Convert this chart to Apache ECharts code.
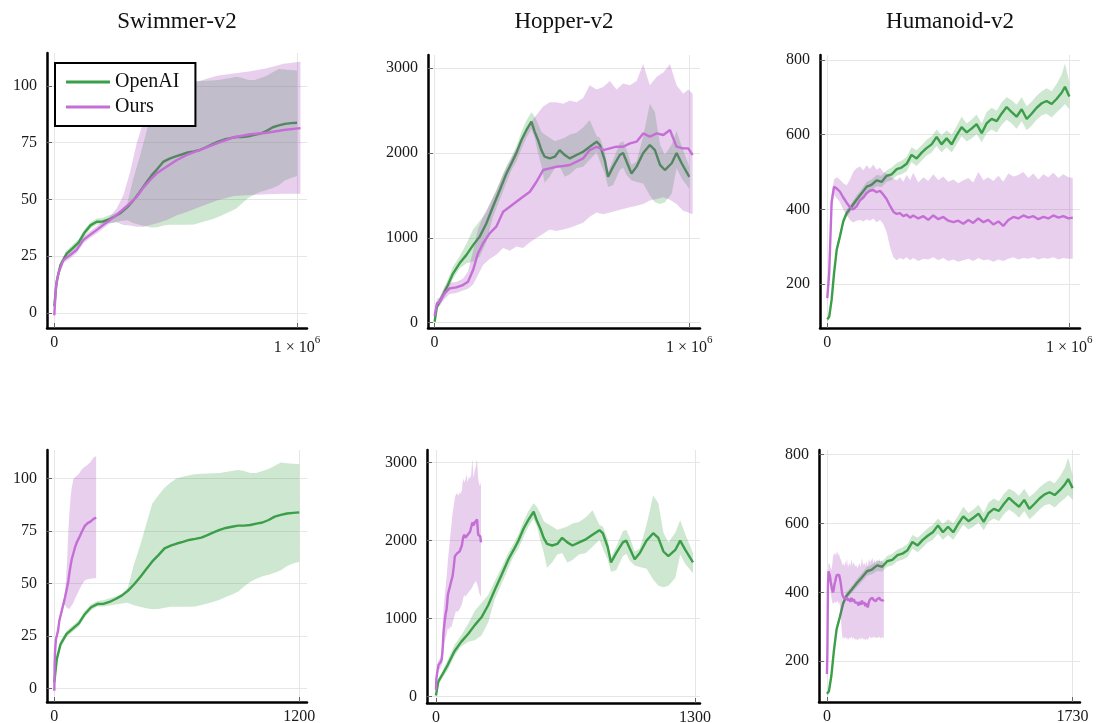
<!DOCTYPE html>
<html>
<head>
<meta charset="utf-8">
<title>Swimmer / Hopper / Humanoid</title>
<script src="https://cdn.jsdelivr.net/npm/echarts@6.0.0/dist/echarts.min.js"></script>
<style>
html, body { margin: 0; padding: 0; background: #fff; }
#main { width: 1099px; height: 723px; }
</style>
</head>
<body>
<div id="main"></div>
<script>
// t = fraction of the 1e6 training steps, values = mean return with band (lo / hi)

// Swimmer-v2
const swimmerOpenAIT = [0, 0.01, 0.025, 0.05, 0.075, 0.1, 0.125, 0.15, 0.175, 0.2, 0.225, 0.25, 0.275, 0.3, 0.325, 0.35, 0.375, 0.4, 0.425, 0.45, 0.475, 0.5, 0.525, 0.55, 0.575, 0.6, 0.625, 0.65, 0.675, 0.7, 0.725, 0.75, 0.775, 0.8, 0.825, 0.85, 0.875, 0.9, 0.925, 0.95, 0.975, 1.0]
const swimmerOpenAIMean = [3, 14, 21, 26, 28.5, 31, 35.5, 38.7, 40.2, 40.3, 41.2, 42.6, 44.2, 46.5, 49.5, 53, 56.8, 60.5, 63.5, 66.7, 68, 69, 69.8, 70.7, 71.2, 71.8, 73, 74.3, 75.5, 76.4, 77, 77.5, 77.5, 77.8, 78.5, 79, 80.2, 81.8, 82.6, 83.3, 83.6, 83.8]
const swimmerOpenAILo = [1, 12, 19.5, 24.5, 27, 29.5, 34, 37.2, 39, 39, 39.5, 40, 40.5, 40.8, 39.6, 38.9, 38.2, 37.7, 37.8, 38.5, 38.9, 38.9, 38.9, 38.9, 39, 39.7, 40.5, 41.3, 42.3, 43.5, 44.7, 46, 48.5, 50.8, 52.2, 53.4, 54.2, 55.1, 56.3, 58.3, 59.5, 60.3]
const swimmerOpenAIHi = [5, 16, 22.5, 27.5, 30, 32.5, 37, 40, 41.6, 42, 43, 43.8, 45, 48, 59, 68, 78, 88, 92, 95.5, 98, 100, 100.8, 101.5, 102, 102.2, 102.3, 102.4, 102.6, 103, 103.5, 104, 103.5, 102.6, 102.6, 103.5, 104.5, 106, 107.5, 107.2, 107, 106.8]

const swimmerOursT = [0, 0.007, 0.017, 0.037, 0.065, 0.092, 0.12, 0.147, 0.175, 0.202, 0.23, 0.257, 0.285, 0.312, 0.34, 0.367, 0.395, 0.422, 0.464, 0.505, 0.546, 0.601, 0.67, 0.739, 0.808, 0.876, 0.945, 1.014]
const swimmerOursMean = [-1, 11.6, 17.5, 23.3, 25.5, 27.8, 32.2, 34.4, 36.6, 38.8, 41, 43.2, 45.8, 48.3, 51.2, 55.2, 58.6, 61.5, 64.5, 67.4, 69.6, 71.8, 74.7, 77.4, 78.7, 79.4, 80.6, 81.4]
const swimmerOursLo = [-2, 10, 16, 22, 24, 26.3, 30.7, 33, 35, 37.3, 39.5, 40, 38.8, 38.5, 38, 38, 38.8, 39.5, 41, 43, 44.5, 46.8, 49.5, 51.5, 52, 52.3, 52.5, 52.5]
const swimmerOursHi = [0, 13, 19, 24.8, 27, 29.3, 33.7, 36, 38.2, 40.3, 42.5, 46, 52, 62, 75, 84, 91, 95.5, 99.7, 100.5, 101.2, 102.3, 104.5, 105.5, 106.5, 107.8, 109.8, 110.7]

// Hopper-v2
const hopperOpenAIT = [0, 0.009, 0.026, 0.046, 0.072, 0.098, 0.125, 0.151, 0.177, 0.203, 0.229, 0.256, 0.282, 0.302, 0.321, 0.341, 0.36, 0.38, 0.393, 0.406, 0.419, 0.432, 0.452, 0.472, 0.491, 0.511, 0.531, 0.557, 0.583, 0.609, 0.636, 0.649, 0.668, 0.681, 0.701, 0.727, 0.74, 0.754, 0.773, 0.793, 0.819, 0.845, 0.865, 0.885, 0.904, 0.931, 0.95, 0.97, 1.0]
const hopperOpenAIMean = [12, 190, 287, 405, 580, 700, 800, 915, 1015, 1170, 1368, 1564, 1760, 1880, 2000, 2155, 2270, 2370, 2250, 2155, 2035, 1957, 1937, 1957, 2035, 1977, 1937, 1977, 2016, 2075, 2134, 2095, 1918, 1720, 1840, 1977, 2000, 1898, 1760, 1840, 2000, 2095, 2035, 1860, 1800, 1880, 2000, 1880, 1720]
const hopperOpenAILo = [0, 150, 240, 340, 520, 640, 700, 720, 780, 950, 1250, 1450, 1650, 1800, 1900, 2050, 2180, 2280, 2180, 2000, 1850, 1650, 1720, 1820, 1840, 1720, 1750, 1820, 1840, 1920, 2010, 1900, 1760, 1600, 1620, 1800, 1830, 1740, 1680, 1660, 1640, 1500, 1420, 1400, 1420, 1520, 1820, 1700, 1580]
const hopperOpenAIHi = [30, 230, 330, 470, 660, 780, 930, 1100, 1200, 1300, 1480, 1660, 1850, 1960, 2080, 2250, 2380, 2480, 2430, 2350, 2250, 2220, 2180, 2140, 2160, 2180, 2220, 2240, 2300, 2390, 2200, 2180, 2020, 1780, 1920, 2120, 2140, 2040, 1860, 1900, 2200, 2580, 2480, 2100, 1980, 2100, 2260, 2080, 1840]

const hopperOursT = [0, 0.009, 0.02, 0.039, 0.059, 0.085, 0.111, 0.131, 0.151, 0.17, 0.19, 0.216, 0.242, 0.269, 0.295, 0.321, 0.347, 0.374, 0.4, 0.426, 0.452, 0.478, 0.505, 0.531, 0.557, 0.583, 0.609, 0.636, 0.662, 0.688, 0.714, 0.74, 0.767, 0.793, 0.819, 0.845, 0.872, 0.898, 0.924, 0.95, 0.976, 0.996, 1.013]
const hopperOursMean = [80, 228, 248, 346, 405, 417, 444, 483, 621, 817, 935, 1053, 1132, 1309, 1368, 1427, 1486, 1544, 1662, 1800, 1820, 1839, 1847, 1859, 1898, 1937, 2035, 2075, 2035, 2055, 2075, 2075, 2114, 2134, 2232, 2193, 2232, 2213, 2272, 2075, 2055, 2055, 1977]
const hopperOursLo = [40, 170, 200, 280, 340, 350, 380, 400, 450, 560, 680, 750, 800, 880, 850, 900, 880, 950, 1000, 1050, 1100, 1080, 1100, 1120, 1150, 1180, 1250, 1300, 1280, 1300, 1320, 1340, 1360, 1380, 1400, 1440, 1460, 1480, 1450, 1400, 1320, 1300, 1280]
const hopperOursHi = [120, 280, 300, 420, 470, 480, 520, 600, 850, 1100, 1250, 1400, 1550, 1750, 1900, 2050, 2200, 2350, 2450, 2550, 2600, 2600, 2580, 2620, 2600, 2650, 2800, 2750, 2780, 2850, 2750, 2820, 2800, 2850, 3050, 2800, 2900, 2950, 3050, 2800, 2700, 2750, 2700]

// Humanoid-v2
const humanoidOpenAIT = [0, 0.008, 0.018, 0.028, 0.039, 0.052, 0.066, 0.08, 0.101, 0.121, 0.142, 0.163, 0.183, 0.204, 0.225, 0.245, 0.266, 0.287, 0.307, 0.328, 0.348, 0.369, 0.39, 0.41, 0.431, 0.452, 0.472, 0.493, 0.514, 0.534, 0.555, 0.576, 0.596, 0.617, 0.638, 0.658, 0.679, 0.7, 0.72, 0.741, 0.762, 0.782, 0.803, 0.824, 0.844, 0.865, 0.886, 0.906, 0.927, 0.948, 0.968, 0.982, 1.0]
const humanoidOpenAIMean = [106, 113, 158, 229, 292, 327, 368, 390, 408, 426, 443, 461, 466, 478, 474, 490, 494, 508, 512, 522, 546, 536, 552, 564, 574, 594, 574, 590, 574, 598, 620, 606, 616, 628, 604, 630, 642, 636, 656, 674, 660, 648, 668, 642, 656, 672, 684, 690, 682, 696, 712, 728, 702]
const humanoidOpenAILo = [100, 106, 150, 220, 282, 317, 358, 380, 398, 414, 430, 448, 452, 462, 460, 474, 478, 490, 494, 502, 526, 516, 530, 544, 552, 570, 552, 566, 552, 574, 596, 582, 590, 602, 580, 604, 614, 606, 626, 640, 630, 616, 636, 612, 624, 640, 652, 656, 646, 660, 672, 682, 668]
const humanoidOpenAIHi = [112, 120, 166, 238, 302, 337, 378, 400, 418, 438, 455, 474, 480, 492, 490, 505, 512, 524, 530, 540, 566, 558, 572, 586, 596, 614, 598, 612, 600, 622, 648, 630, 640, 654, 630, 660, 672, 664, 686, 700, 692, 680, 700, 676, 688, 704, 716, 724, 716, 736, 760, 790, 740]

const humanoidOursT = [0, 0.008, 0.018, 0.028, 0.039, 0.052, 0.066, 0.08, 0.094, 0.107, 0.121, 0.135, 0.149, 0.163, 0.176, 0.19, 0.204, 0.218, 0.231, 0.245, 0.259, 0.273, 0.287, 0.3, 0.314, 0.328, 0.342, 0.355, 0.376, 0.397, 0.417, 0.438, 0.459, 0.479, 0.5, 0.521, 0.541, 0.562, 0.583, 0.603, 0.624, 0.645, 0.665, 0.686, 0.707, 0.727, 0.748, 0.769, 0.789, 0.81, 0.831, 0.851, 0.872, 0.893, 0.913, 0.934, 0.955, 0.975, 0.996, 1.014]
const humanoidOursMean = [163, 230, 420, 461, 456, 448, 432, 418, 406, 400, 408, 424, 432, 444, 450, 452, 446, 450, 440, 428, 410, 394, 388, 390, 382, 386, 378, 384, 376, 382, 372, 384, 374, 380, 370, 366, 370, 362, 372, 364, 376, 366, 372, 360, 368, 356, 372, 380, 376, 384, 378, 382, 374, 380, 376, 384, 378, 382, 376, 378]
const humanoidOursLo = [150, 215, 400, 440, 430, 420, 400, 385, 372, 365, 370, 372, 368, 374, 370, 376, 366, 372, 362, 340, 300, 272, 264, 270, 266, 272, 264, 270, 262, 268, 266, 272, 264, 270, 262, 266, 260, 264, 268, 262, 270, 264, 266, 260, 266, 262, 268, 272, 266, 270, 268, 272, 266, 270, 268, 272, 266, 270, 268, 268]
const humanoidOursHi = [176, 245, 440, 480, 486, 480, 470, 465, 480, 500, 510, 515, 505, 518, 508, 520, 506, 512, 500, 496, 490, 482, 478, 486, 474, 492, 478, 498, 472, 486, 476, 494, 478, 488, 474, 480, 470, 478, 484, 472, 500, 478, 486, 476, 490, 474, 496, 488, 492, 500, 484, 496, 480, 494, 486, 498, 484, 494, 486, 484]

// wall-clock length of each run (bottom row), per unit of t
const runSteps = 1e6
const swimmerOpenAITime = 1200
const swimmerOursTime = 202
const hopperOpenAITime = 1290
const hopperOursTime = 223
const humanoidOpenAITime = 1730
const humanoidOursTime = 395

// tick labels
const stepTicks = [0, 1e6]
const swimmerTimeTicks = [0, 1200]
const hopperTimeTicks = [0, 1300]
const humanoidTimeTicks = [0, 1730]
const swimmerYTicks = [0, 25, 50, 75, 100]
const hopperYTicks = [0, 1000, 2000, 3000]
const humanoidYTicks = [200, 400, 600, 800]

const titles = ['Swimmer-v2', 'Hopper-v2', 'Humanoid-v2']

// ---- styling ----
const FONT = 'Liberation Serif'
const GREEN = '#3b9e48'
const PURPLE = '#c46ed6'
const GREEN_BAND = 'rgba(45,155,60,0.24)'
const PURPLE_BAND = 'rgba(165,65,185,0.25)'

function lineRows (t, vals, scale) {
  return t.map((v, i) => [v * scale, vals[i]])
}
function bandRows (t, lo, hi, scale) {
  return t.map((v, i) => [v * scale, lo[i], hi[i]])
}

// shaded band drawn as one polygon through the grid's own scales
function bandSeries (g, data, fill, z) {
  return {
    type: 'custom',
    xAxisIndex: g,
    yAxisIndex: g,
    z: z,
    silent: true,
    clip: true,
    data: data,
    encode: {x: 0, y: [1, 2]},
    renderItem: function (params, api) {
      if (params.dataIndex !== 0) return null
      const top = data.map(d => api.coord([d[0], d[2]]))
      const bot = data.map(d => api.coord([d[0], d[1]])).reverse()
      return {type: 'polygon', shape: {points: top.concat(bot)}, style: {fill: fill}}
    }
  }
}

function lineSeries (g, name, data, color, z) {
  return {
    type: 'line',
    name: name,
    xAxisIndex: g,
    yAxisIndex: g,
    z: z,
    data: data,
    symbol: 'none',
    showSymbol: false,
    color: color,
    itemStyle: {color: color},
    lineStyle: {color: color, width: 2.4},
    clip: true
  }
}

const envs = [
  {
    openT: swimmerOpenAIT, openMean: swimmerOpenAIMean, openLo: swimmerOpenAILo, openHi: swimmerOpenAIHi,
    oursT: swimmerOursT, oursMean: swimmerOursMean, oursLo: swimmerOursLo, oursHi: swimmerOursHi,
    openTime: swimmerOpenAITime, oursTime: swimmerOursTime, yTicks: swimmerYTicks, timeTicks: swimmerTimeTicks
  },
  {
    openT: hopperOpenAIT, openMean: hopperOpenAIMean, openLo: hopperOpenAILo, openHi: hopperOpenAIHi,
    oursT: hopperOursT, oursMean: hopperOursMean, oursLo: hopperOursLo, oursHi: hopperOursHi,
    openTime: hopperOpenAITime, oursTime: hopperOursTime, yTicks: hopperYTicks, timeTicks: hopperTimeTicks
  },
  {
    openT: humanoidOpenAIT, openMean: humanoidOpenAIMean, openLo: humanoidOpenAILo, openHi: humanoidOpenAIHi,
    oursT: humanoidOursT, oursMean: humanoidOursMean, oursLo: humanoidOursLo, oursHi: humanoidOursHi,
    openTime: humanoidOpenAITime, oursTime: humanoidOursTime, yTicks: humanoidYTicks, timeTicks: humanoidTimeTicks
  }
]

// plot frames (pixels) and axis extents, top row then bottom row
const layout = [
  {grid: {left: 47, top: 53, width: 260, height: 275}, x: [-30000, 1041000], y: [-6.6, 114.5]},
  {grid: {left: 428, top: 55, width: 272, height: 273}, x: [-26000, 1042000], y: [-62, 3156]},
  {grid: {left: 820, top: 55, width: 260, height: 273}, x: [-30000, 1044000], y: [83, 813]},
  {grid: {left: 47, top: 450, width: 260, height: 252}, x: [-36, 1238], y: [-6.4, 113.5]},
  {grid: {left: 427, top: 450, width: 273, height: 253}, x: [-45, 1325], y: [-85, 3163]},
  {grid: {left: 819, top: 450, width: 261, height: 252}, x: [-56, 1782], y: [82, 812.5]}
]

const labelStyle = {fontFamily: FONT, fontSize: 16, color: '#1a1a1a'}
const grids = []
const xAxes = []
const yAxes = []
const series = []

layout.forEach(function (p, g) {
  const env = envs[g % 3]
  const bottom = g >= 3
  const xTicks = bottom ? env.timeTicks : stepTicks
  const openScale = bottom ? env.openTime : runSteps
  const oursScale = bottom ? env.oursTime : runSteps

  grids.push(Object.assign({containLabel: false, outerBoundsMode: 'none'}, p.grid))

  xAxes.push({
    type: 'value',
    gridIndex: g,
    min: p.x[0],
    max: p.x[1],
    axisLine: {show: true, onZero: false, lineStyle: {color: '#000', width: 2.5}},
    axisTick: {show: true, inside: true, length: 5, customValues: xTicks, lineStyle: {color: '#666', width: 1}},
    splitLine: {show: true, lineStyle: {color: '#e6e6e6', width: 1}},
    axisLabel: Object.assign({
      customValues: xTicks,
      margin: 7,
      formatter: function (v) {
        return v === 1e6 ? '{m|1 × 10}{s|6}' : String(v)
      },
      rich: {
        m: {fontFamily: FONT, fontSize: 16, color: '#1a1a1a', lineHeight: 22, padding: [4, 0, 0, 0]},
        s: {fontFamily: FONT, fontSize: 11, color: '#1a1a1a', lineHeight: 12, verticalAlign: 'top'}
      }
    }, labelStyle)
  })

  yAxes.push({
    type: 'value',
    gridIndex: g,
    min: p.y[0],
    max: p.y[1],
    axisLine: {show: true, onZero: false, lineStyle: {color: '#000', width: 2.5}},
    axisTick: {show: true, inside: true, length: 5, customValues: env.yTicks, lineStyle: {color: '#666', width: 1}},
    splitLine: {show: true, lineStyle: {color: '#e6e6e6', width: 1}},
    axisLabel: Object.assign({customValues: env.yTicks, margin: 10, formatter: v => String(v)}, labelStyle)
  })

  // drawing order: green band, green line, purple band, purple line
  series.push(bandSeries(g, bandRows(env.openT, env.openLo, env.openHi, openScale), GREEN_BAND, 1))
  series.push(lineSeries(g, 'OpenAI', lineRows(env.openT, env.openMean, openScale), GREEN, 2))
  series.push(bandSeries(g, bandRows(env.oursT, env.oursLo, env.oursHi, oursScale), PURPLE_BAND, 3))
  series.push(lineSeries(g, 'Ours', lineRows(env.oursT, env.oursMean, oursScale), PURPLE, 4))
})

const chart = echarts.init(document.getElementById('main'))
chart.setOption({
  animation: false,
  backgroundColor: '#fff',
  grid: grids,
  xAxis: xAxes,
  yAxis: yAxes,
  graphic: titles.map(function (text, i) {
    const p = layout[i].grid
    return {
      type: 'text',
      x: p.left + p.width / 2,
      y: 22,
      style: {text: text, fontFamily: FONT, fontSize: 23, fill: '#111', align: 'center', verticalAlign: 'middle'}
    }
  }),
  legend: {
    data: ['OpenAI', 'Ours'],
    orient: 'vertical',
    left: 55,
    top: 63,
    z: 10,
    icon: 'rect',
    itemWidth: 44,
    itemHeight: 3,
    itemGap: 5,
    padding: [9, 16, 9, 11],
    backgroundColor: '#fff',
    borderColor: '#000',
    borderWidth: 2,
    borderRadius: 0,
    selectedMode: false,
    textStyle: {fontFamily: FONT, fontSize: 20, lineHeight: 20, color: '#111'}
  },
  series: series
})
</script>
</body>
</html>
